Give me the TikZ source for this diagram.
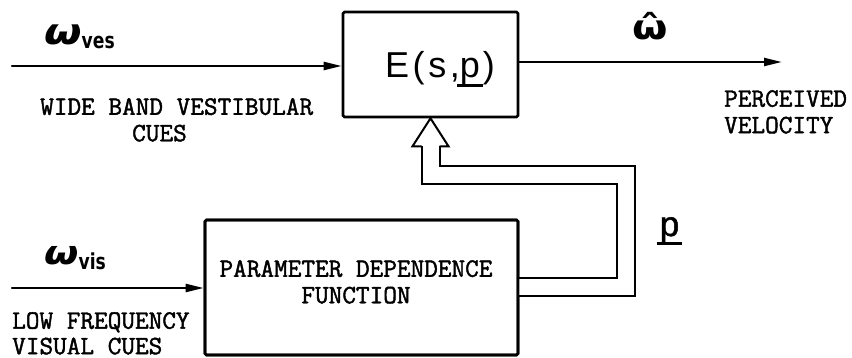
\documentclass[tikz,border=0pt]{standalone}
\usepackage{fontspec}
\usetikzlibrary{arrows.meta,calc}
\setmonofont{Latin Modern Mono}[FakeBold=1.6]
\newfontfamily\greekfont{DejaVu Sans}[FakeStretch=1.2]
\newfontfamily\subsfont{DejaVu Sans Bold}[FakeStretch=0.78]
\newfontfamily\eqfont{Liberation Sans}[LetterSpace=10]
\newfontfamily\plainsans{Liberation Sans}[FakeBold=1.5]
% underlined (vector) symbol with a heavy bar under it
\newcommand{\ulvec}[2][2.5pt]{\leavevmode\setbox0=\hbox{#2}%
  \vtop{\offinterlineskip\copy0\kern-1pt\moveleft3pt\vbox{\hrule height #1 width \dimexpr\wd0+6pt\relax}}}
\begin{document}
\begin{tikzpicture}[x=1pt,y=-1pt,
  box/.style={draw, line width=2.6pt, rounded corners=1.5pt, inner sep=0pt},
  sig/.style={line width=2.4pt, line cap=round, -{Triangle[length=18pt,width=8pt]}},
  chan/.style={line width=2pt, double distance=16pt, line join=miter},
  headline/.style={line width=2pt, line join=miter},
  captxt/.style={font=\ttfamily\fontsize{26.5}{26.5}\selectfont, inner sep=0pt},
  sym/.style={inner sep=0pt},
]
\useasboundingbox (0,0) rectangle (852,358);

% blocks
\node[box, minimum width=175pt, minimum height=105pt] (E) at (430.5,64.5) {};
\node[sym, anchor=base] (etxt) at (440,78)
  {\eqfont\fontsize{36}{36}\selectfont E(s,\ulvec{p})};
\node[box, minimum width=313pt, minimum height=135pt] (P) at (361.5,287.5) {};
\node[captxt, align=center, anchor=north] (ptxt) at (356,260)
  {PARAMETER DEPENDENCE\\FUNCTION};

% parameter channel (double line) from P up into E
\coordinate (hb) at ($(E.south)+(0,28)$);
\draw[chan] (P.east) -- ++(107,0) |- ($(E.south)+(0,57)$) -- (hb);
\draw[headline] ($(hb)+(-9,0)$) -- ++(-9,0) -- (E.south) -- ($(hb)+(18,0)$) -- ++(-9,0);
\node[box, minimum width=313pt, minimum height=135pt] at (P) {};

% signal lines
\coordinate (vesin) at (12,66);
\coordinate (out) at (782,62);
\coordinate (visin) at (12,288);
\draw[sig] (vesin) -- (vesin -| E.west);
\draw[sig] (E.east |- out) -- (out);
\draw[sig] (visin) -- (visin -| P.west);

% symbols
\node[sym, anchor=base west] (wves) at (44,45)
  {{\greekfont\bfseries\itshape\fontsize{36}{36}\selectfont ω}\raisebox{-4pt}{\subsfont\fontsize{22}{22}\selectfont ves}};
\node[sym, anchor=base west] (wvis) at (44,265)
  {{\greekfont\bfseries\itshape\fontsize{33}{33}\selectfont ω}\raisebox{-5pt}{\subsfont\fontsize{22}{22}\selectfont vis}};
\node[sym, anchor=base] (what) at (650,40) {\greekfont\bfseries\fontsize{34}{34}\selectfont ω^^^^0302};
\node[sym, anchor=base] (plab) at (671,236) {\plainsans\fontsize{35}{35}\selectfont\ulvec[3pt]{p}};

% captions
\node[captxt, align=left, anchor=north west] (vestxt) at (40,98)
  {WIDE BAND VESTIBULAR\\\hspace*{92pt}CUES};
\node[captxt, align=left, anchor=north west] (perc) at (724,90)
  {PERCEIVED\\VELOCITY};
\node[captxt, font=\ttfamily\fontsize{26.5}{25.5}\selectfont, align=left, anchor=north west] (lowtxt) at (12,312)
  {LOW FREQUENCY\\VISUAL CUES};
\end{tikzpicture}
\end{document}
